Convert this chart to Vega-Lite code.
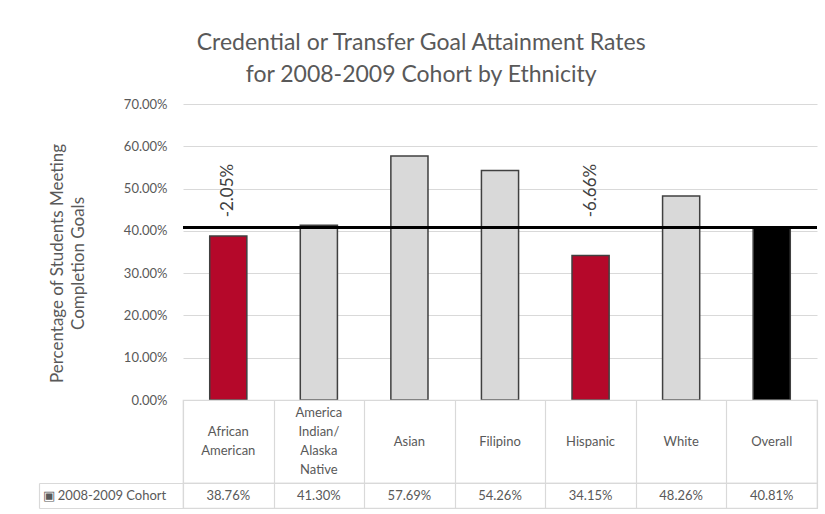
{
  "$schema": "https://vega.github.io/schema/vega-lite/v6.json",
  "background": "white",
  "padding": {"left": 37, "right": 10, "top": 32, "bottom": 7},
  "title": {
    "text": ["Credential or Transfer Goal Attainment Rates", "for 2008-2009 Cohort by Ethnicity"],
    "fontSize": 23,
    "lineHeight": 32,
    "font": "Lato",
    "fontWeight": "normal",
    "color": "#595959",
    "anchor": "middle",
    "dx": -7,
    "offset": 11
  },
  "datasets": {
    "rates": [
      {"category": "African American", "label": "African\nAmerican", "value": 0.3876, "group": "Below overall", "gap": -0.0205, "series": "2008-2009 Cohort"},
      {"category": "America Indian/Alaska Native", "label": "America\nIndian/\nAlaska\nNative", "value": 0.4130, "group": "At or above overall", "gap": null, "series": "2008-2009 Cohort"},
      {"category": "Asian", "label": "Asian", "value": 0.5769, "group": "At or above overall", "gap": null, "series": "2008-2009 Cohort"},
      {"category": "Filipino", "label": "Filipino", "value": 0.5426, "group": "At or above overall", "gap": null, "series": "2008-2009 Cohort"},
      {"category": "Hispanic", "label": "Hispanic", "value": 0.3415, "group": "Below overall", "gap": -0.0666, "series": "2008-2009 Cohort"},
      {"category": "White", "label": "White", "value": 0.4826, "group": "At or above overall", "gap": null, "series": "2008-2009 Cohort"},
      {"category": "Overall", "label": "Overall", "value": 0.4081, "group": "Overall", "gap": null, "series": "2008-2009 Cohort"}
    ]
  },
  "bounds": "flush",
  "spacing": 0,
  "vconcat": [
    {
      "width": 634,
      "height": 296,
      "view": {"stroke": null},
      "data": {"name": "rates"},
      "layer": [
        {
          "mark": {"type": "bar", "stroke": "#404040", "strokeWidth": 1.5},
          "encoding": {
            "x": {"field": "category", "type": "nominal", "sort": null, "axis": null,
                  "scale": {"paddingInner": 0.59, "paddingOuter": 0.295}},
            "y": {"field": "value", "type": "quantitative",
                  "scale": {"domain": [0, 0.7]},
                  "axis": {
                    "values": [0, 0.1, 0.2, 0.3, 0.4, 0.5, 0.6, 0.7],
                    "format": ".2%",
                    "domain": false,
                    "ticks": false,
                    "labelPadding": 16,
                    "labelFontSize": 13,
                    "labelColor": "#595959",
                    "gridColor": "#D9D9D9",
                    "gridWidth": 1.2,
                    "title": ["Percentage of Students Meeting", "Completion Goals"],
                    "titleFontSize": 17,
                    "titleFontWeight": "normal",
                    "titleColor": "#595959",
                    "titleLineHeight": 21,
                    "titlePadding": 36,
                    "titleY": 159
                  }},
            "color": {"field": "group", "type": "nominal", "legend": null,
                      "scale": {"domain": ["Below overall", "At or above overall", "Overall"],
                                "range": ["#B5082A", "#D9D9D9", "#000000"]}}
          }
        },
        {
          "transform": [{"filter": "datum.category === 'Overall'"}],
          "mark": {"type": "rule", "color": "#000000", "strokeWidth": 3},
          "encoding": {
            "y": {"field": "value", "type": "quantitative"}
          }
        },
        {
          "transform": [{"filter": "datum.gap != null"}],
          "mark": {"type": "text", "angle": 270, "align": "left", "baseline": "middle", "fontSize": 17, "color": "#404040"},
          "encoding": {
            "x": {"field": "category", "type": "nominal", "sort": null},
            "y": {"datum": 0.432, "type": "quantitative"},
            "text": {"field": "gap", "type": "quantitative", "format": ".2%"}
          }
        }
      ]
    },
    {
      "width": 634,
      "height": 83,
      "view": {"stroke": "#D9D9D9", "strokeWidth": 1.2},
      "data": {"name": "rates"},
      "mark": {"type": "text", "fontSize": 13, "color": "#595959", "lineBreak": "\n", "lineHeight": 19,
               "dy": {"expr": "-9.5 * (length(split(datum.label, '\\n')) - 1)"}},
      "encoding": {
        "x": {"field": "category", "type": "nominal", "sort": null,
              "scale": {"paddingInner": 0, "paddingOuter": 0},
              "axis": {"grid": true, "tickBand": "extent", "gridColor": "#D9D9D9", "gridWidth": 1.2,
                       "labels": false, "ticks": false, "domain": false, "title": null}},
        "text": {"field": "label", "type": "nominal"}
      }
    },
    {
      "width": 634,
      "height": 25,
      "view": {"stroke": "#D9D9D9", "strokeWidth": 1.2},
      "data": {"name": "rates"},
      "resolve": {"axis": {"y": "independent"}},
      "layer": [
        {
          "mark": {"type": "text", "fontSize": 13, "color": "#595959"},
          "encoding": {
            "x": {"field": "category", "type": "nominal", "sort": null,
                  "scale": {"paddingInner": 0, "paddingOuter": 0},
                  "axis": {"grid": true, "tickBand": "extent", "gridColor": "#D9D9D9", "gridWidth": 1.2,
                           "labels": false, "ticks": false, "domain": false, "title": null}},
            "y": {"field": "series", "type": "nominal",
                  "scale": {"paddingInner": 0, "paddingOuter": 0},
                  "axis": {"orient": "left", "title": null, "domain": false, "ticks": true, "tickBand": "extent",
                           "tickSize": 144, "tickColor": "#D9D9D9", "tickWidth": 1.2,
                           "labelAlign": "left", "labelPadding": -3, "labelFontSize": 13,
                           "labelColor": "#595959",
                           "labelExpr": "datum.label ? '▣ ' + datum.label : ''"}},
            "text": {"field": "value", "type": "quantitative", "format": ".2%"}
          }
        },
        {
          "mark": {"type": "text", "text": ""},
          "encoding": {
            "x": {"field": "category", "type": "nominal", "sort": null},
            "y": {"field": "series", "type": "nominal",
                  "axis": {"orient": "left", "offset": 144, "title": null, "domain": true,
                           "domainColor": "#D9D9D9", "domainWidth": 1.2,
                           "ticks": false, "labels": false, "grid": false}}
          }
        }
      ]
    }
  ],
  "config": {
    "font": "Lato",
    "locale": {"number": {"decimal": ".", "thousands": ",", "grouping": [3], "currency": ["$", ""], "minus": "-"}}
  }
}
